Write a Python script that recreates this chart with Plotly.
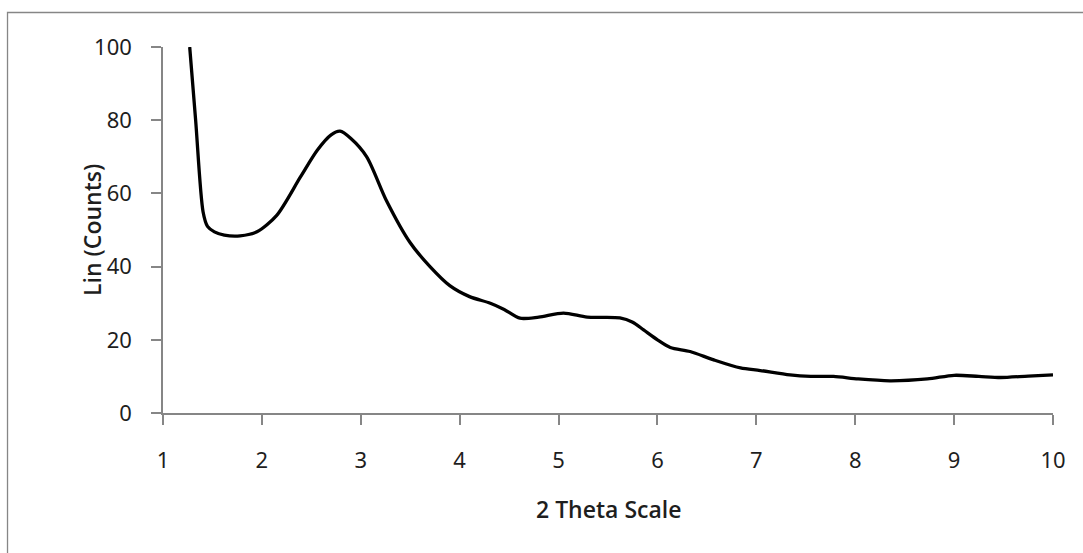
import plotly.graph_objects as go

# XRD scan: intensity vs 2-theta
two_theta = [1.27, 1.33, 1.405, 1.45, 1.52, 1.62, 1.78, 1.95, 2.15, 2.39, 2.56, 2.70,
             2.79, 2.90, 3.06, 3.26, 3.50, 3.70, 3.90, 4.10, 4.31, 4.45, 4.61, 4.80,
             5.05, 5.29, 5.62, 5.75, 5.86, 6.00, 6.13, 6.33, 6.57, 6.84, 7.04, 7.34,
             7.55, 7.78, 8.03, 8.35, 8.73, 9.00, 9.25, 9.47, 9.75, 10.00]
counts = [100, 80, 55, 51, 49.5, 48.6, 48.4, 49.5, 54, 64.5, 71.8, 76,
          77, 75, 70, 58, 46.5, 40, 34.8, 31.8, 30, 28.3, 25.9, 26.2,
          27.3, 26.2, 26.0, 24.8, 22.7, 20.0, 17.9, 16.8, 14.5, 12.3, 11.6, 10.4,
          10.0, 10.0, 9.3, 8.8, 9.3, 10.3, 10.0, 9.7, 10.1, 10.4]

x_ticks = [1, 2, 3, 4, 5, 6, 7, 8, 9, 10]
y_ticks = [0, 20, 40, 60, 80, 100]

FONT = "Noto Sans"
TXT = "#1e1e1e"
AXIS = "#868686"

fig = go.Figure()
fig.add_trace(go.Scatter(
    x=two_theta, y=counts, mode="lines",
    line=dict(color="black", width=3.3, shape="spline", smoothing=0.8),
    showlegend=False, cliponaxis=True,
))

axis_common = dict(
    showgrid=False, zeroline=False, showline=True, linecolor=AXIS, linewidth=1.5,
    ticks="outside", ticklen=10, tickwidth=1.5, tickcolor=AXIS,
    tickfont=dict(family=FONT, size=22, color=TXT),
)

title_font = dict(family="Open Sans", size=23, color=TXT, weight=600)

fig.update_layout(
    width=1083, height=553,
    margin=dict(l=163, r=30, t=47, b=140),
    paper_bgcolor="white", plot_bgcolor="white",
    xaxis=dict(range=[1, 10], tickvals=x_ticks, ticklabelstandoff=17, **axis_common),
    yaxis=dict(range=[0, 100], tickvals=y_ticks, ticklabelstandoff=15, **axis_common),
    annotations=[
        dict(text="2 Theta Scale", xref="paper", yref="paper",
             x=0.5, y=-0.262, xanchor="center", yanchor="middle", showarrow=False,
             font=title_font),
        dict(text="Lin (Counts)", xref="paper", yref="paper",
             x=-0.0798, y=0.5, xanchor="center", yanchor="middle", showarrow=False,
             textangle=-90, font=title_font),
    ],
    shapes=[
        dict(type="rect", xref="paper", yref="paper",
             x0=-0.1747, x1=1.3, y0=-0.6, y1=1.0943,
             line=dict(color=AXIS, width=1.3), fillcolor="rgba(0,0,0,0)", layer="below"),
    ],
)

fig.write_html("out.html")
